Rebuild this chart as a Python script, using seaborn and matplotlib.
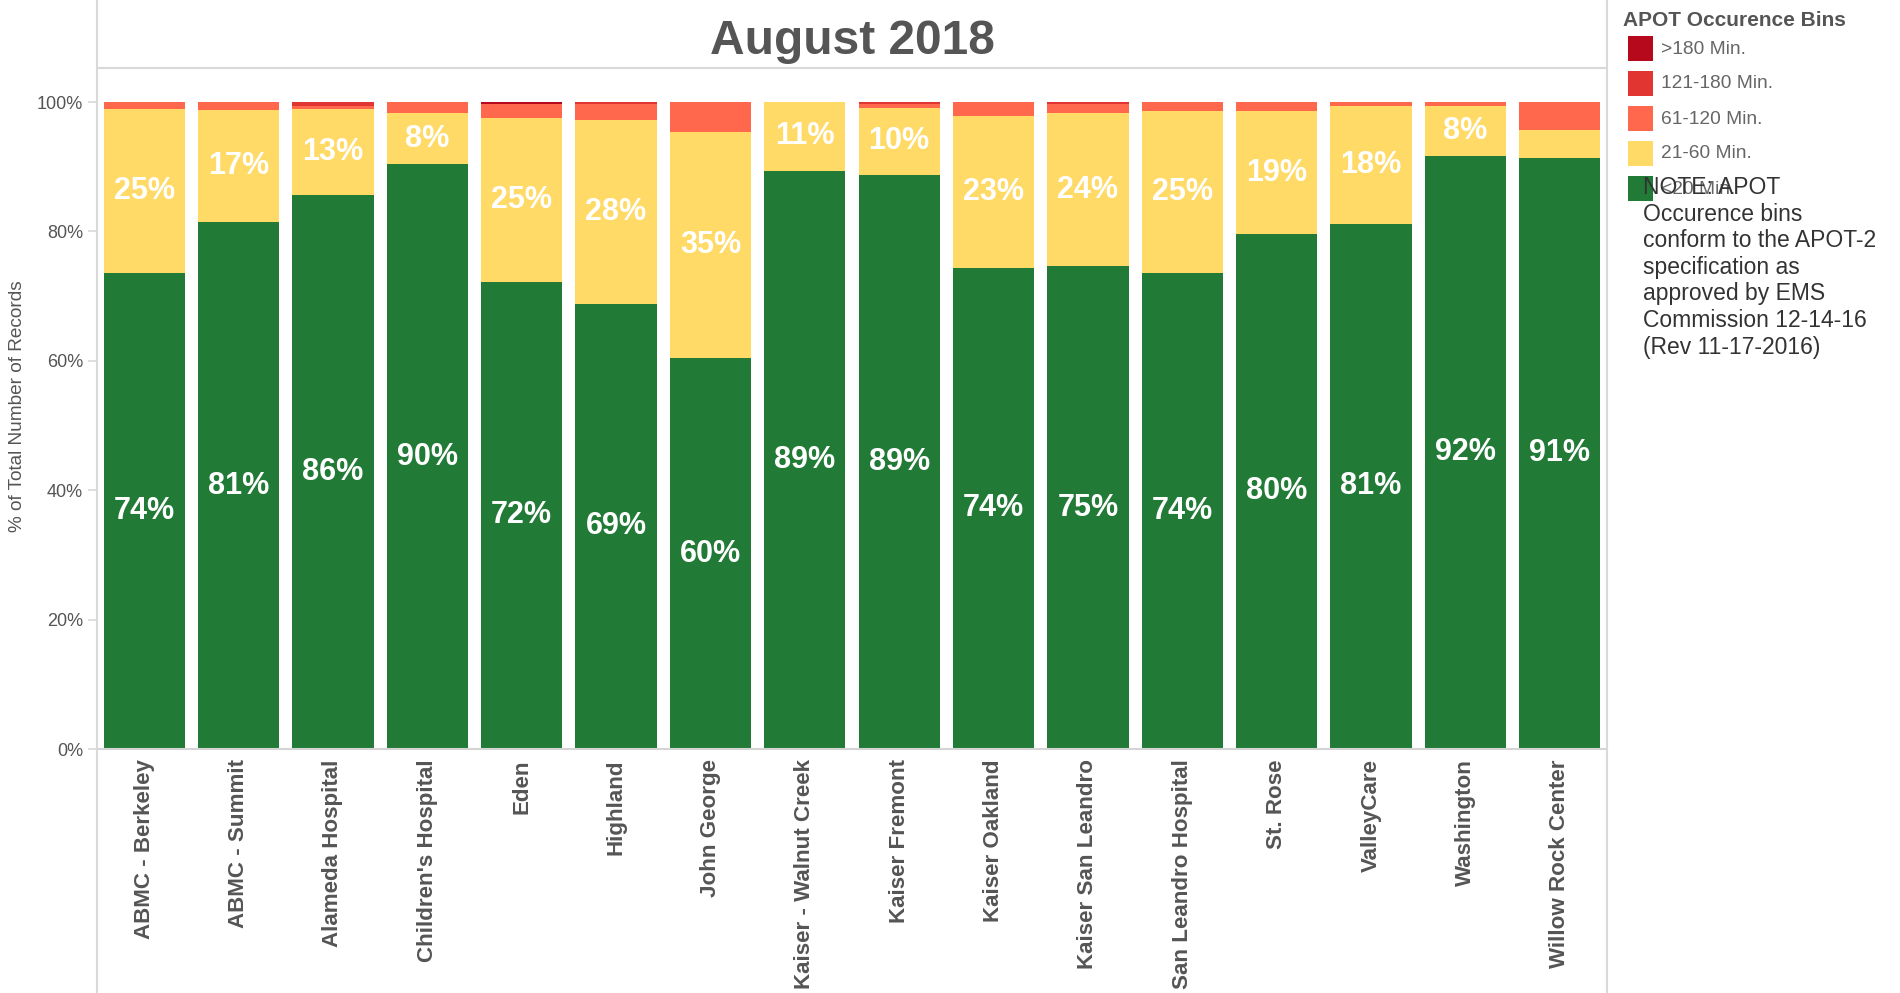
import matplotlib
matplotlib.use("Agg")
import matplotlib.pyplot as plt
import seaborn as sns
import pandas as pd
import numpy as np
from matplotlib.patches import Rectangle
from matplotlib.lines import Line2D

# ---------------- data ----------------
hospitals = ["ABMC - Berkeley", "ABMC - Summit", "Alameda Hospital", "Children's Hospital",
             "Eden", "Highland", "John George", "Kaiser - Walnut Creek", "Kaiser Fremont",
             "Kaiser Oakland", "Kaiser San Leandro", "San Leandro Hospital", "St. Rose",
             "ValleyCare", "Washington", "Willow Rock Center"]
pct_under20 = [73.6, 81.4, 85.6, 90.4, 72.2, 68.8, 60.4, 89.35, 88.7, 74.4, 74.6, 73.6, 79.6, 81.2, 91.7, 91.4]
pct_21_60 = [25.3, 17.4, 13.3, 7.9, 25.4, 28.4, 35.0, 10.65, 10.4, 23.4, 23.7, 25.0, 19.0, 18.2, 7.7, 4.3]
pct_61_120 = [1.1, 1.2, 0.5, 1.7, 2.1, 2.5, 4.6, 0.0, 0.6, 2.2, 1.4, 1.4, 1.4, 0.6, 0.6, 4.3]
pct_121_180 = [0.0, 0.0, 0.6, 0.0, 0.0, 0.3, 0.0, 0.0, 0.3, 0.0, 0.3, 0.0, 0.0, 0.0, 0.0, 0.0]
pct_over180 = [0.0, 0.0, 0.0, 0.0, 0.3, 0.0, 0.0, 0.0, 0.0, 0.0, 0.0, 0.0, 0.0, 0.0, 0.0, 0.0]

bin_labels = [">180 Min.", "121-180 Min.", "61-120 Min.", "21-60 Min.", "<20 Min."]
bin_colors = ["#B60A1C", "#E03531", "#FF684C", "#FFDA66", "#217A36"]
y_ticks = [0, 20, 40, 60, 80, 100]
title_text = "August 2018"
y_label = "% of Total Number of Records"
note_text = ("NOTE: APOT\nOccurence bins\nconform to the APOT-2\nspecification as\n"
             "approved by EMS\nCommission 12-14-16\n(Rev 11-17-2016)")
legend_title = "APOT Occurence Bins"

# ---------------- style ----------------
sns.set_theme(style="white")
plt.rcParams['font.family'] = ['Liberation Sans', 'DejaVu Sans']

W, H = 1900, 993
fig = plt.figure(figsize=(W / 100, H / 100), dpi=100)

def fx(px):
    return px / W

def fy(py):
    return 1 - py / H

ax_left, ax_right, ax_top, ax_bottom = 97, 1607, 68, 749
ax = fig.add_axes([fx(ax_left), fy(ax_bottom), (ax_right - ax_left) / W, (ax_bottom - ax_top) / H])

df = pd.DataFrame({
    "hospital": hospitals,
    "u20": pct_under20,
    "b21": pct_21_60,
    "b61": pct_61_120,
    "b121": pct_121_180,
    "b180": pct_over180,
})
segs = ["u20", "b21", "b61", "b121", "b180"]  # bottom to top
seg_colors = bin_colors[::-1]
cum = df[segs].cumsum(axis=1)

# draw from the tallest cumulative down so lower segments overlay
for seg, col in zip(segs[::-1], seg_colors[::-1]):
    sns.barplot(x=df["hospital"], y=cum[seg], color=col, saturation=1, width=0.86,
                ax=ax, order=hospitals, linewidth=0, errorbar=None)

# value labels for the two large segments
for i in range(len(hospitals)):
    base = 0.0
    for seg in ["u20", "b21"]:
        v = df.loc[i, seg]
        if v >= 6:
            ax.text(i, base + v / 2, f"{int(v + 0.5)}%", ha="center", va="center",
                    color="white", fontsize=22, fontweight="bold")
        base += v

ymax = (ax_bottom - ax_top) / 6.47
ax.set_ylim(0, ymax)
ax.set_xlim(-0.5, len(hospitals) - 0.5)
ax.set_yticks(y_ticks)
ax.set_yticklabels([f"{t}%" for t in y_ticks], fontsize=13, color="#555555")
ax.set_xticks(range(len(hospitals)))
ax.set_xticklabels(hospitals, rotation=90, fontsize=16.1, fontweight="bold", color="#555555",
                   va="top", ha="center")
ax.set_xticks(np.arange(-0.5, len(hospitals), 1), minor=True)
ax.tick_params(axis="x", which="major", length=0, pad=7.5)
ax.tick_params(axis="x", which="minor", length=7, width=1.2, color="#d9d9d9", direction="out")
ax.tick_params(axis="y", which="major", length=6.5, width=1.2, color="#d9d9d9", pad=3.5,
               left=True)
ax.set_xlabel("")
ax.set_ylabel("")
for s in ["left", "right"]:
    ax.spines[s].set_visible(False)
ax.spines["top"].set_color("#d9d9d9")
ax.spines["top"].set_linewidth(1.5)
ax.spines["bottom"].set_color("#d4d4d4")
ax.spines["bottom"].set_linewidth(1.5)

# frame lines spanning the full height
fig.add_artist(Line2D([fx(ax_left), fx(ax_left)], [fy(0), fy(H)], color="#d9d9d9", lw=1.5))
fig.add_artist(Line2D([fx(ax_right), fx(ax_right)], [fy(0), fy(H)], color="#d9d9d9", lw=1.5))

# y label
fig.text(fx(18), fy(406), y_label, rotation=90, ha="center", va="center",
         fontsize=13.7, color="#555555")

# title
fig.text(fx(852), fy(41), title_text, ha="center", va="center", fontsize=34.5,
         fontweight="bold", color="#555555")

# legend (manual)
fig.text(fx(1623), fy(21), legend_title, ha="left", va="center", fontsize=15,
         fontweight="bold", color="#555555")
for k, (lab, col) in enumerate(zip(bin_labels, bin_colors)):
    top = 36 + 35 * k
    fig.add_artist(Rectangle((fx(1628), fy(top + 25)), 25 / W, 25 / H, color=col,
                             transform=fig.transFigure, lw=0))
    fig.text(fx(1661), fy(top + 13), lab, ha="left", va="center", fontsize=13.8,
             color="#666666")

fig.text(fx(1643), fy(176), note_text, ha="left", va="top", fontsize=16.5,
         color="#333333", linespacing=1.2)

fig.savefig("out.png", dpi=100)
